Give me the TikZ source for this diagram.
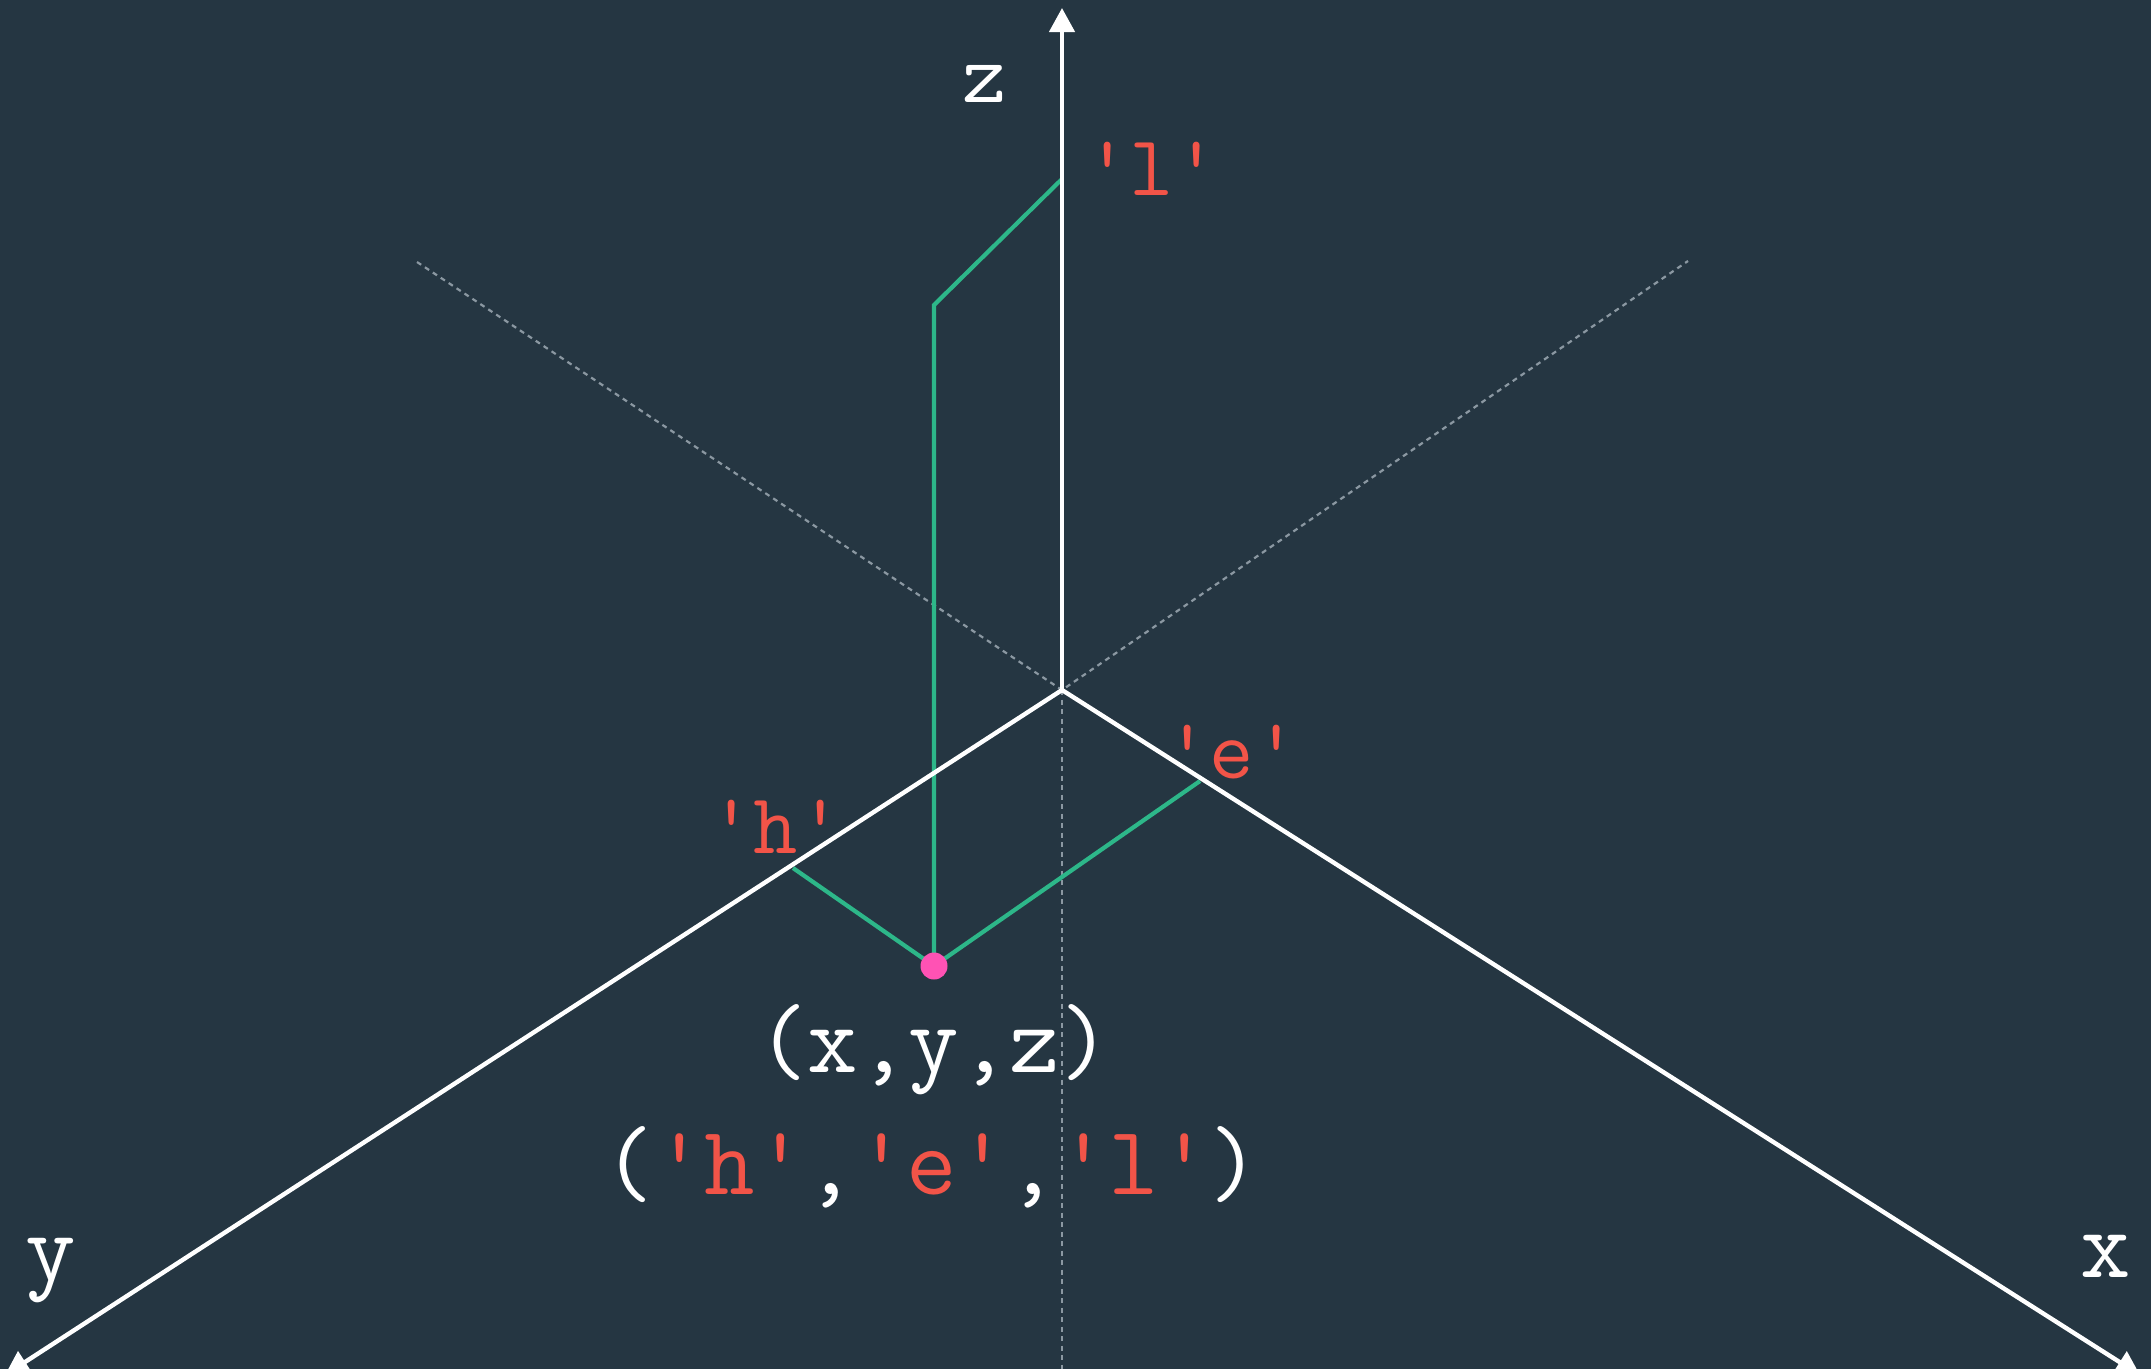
\documentclass[tikz,border=0pt]{standalone}
\usepackage{fontspec}
\usepackage{xcolor}
\usepackage{tikz}
\usetikzlibrary{arrows.meta, positioning}

\definecolor{bgslate}{HTML}{253642}
\definecolor{labred}{HTML}{F25448}
\definecolor{projgreen}{HTML}{2DB789}
\definecolor{dotpink}{HTML}{FF52B4}
\definecolor{guidegray}{HTML}{8B98A2}

\begin{document}
\begin{tikzpicture}[
        x=1pt, y=-1pt,
        axis/.style={draw=white, line width=4.4pt, -{Triangle[length=24pt, width=25pt]}},
        guide/.style={draw=guidegray, line width=2.2pt, dash pattern=on 5pt off 4.5pt},
        proj/.style={draw=projgreen, line width=4.2pt, line join=miter},
        small/.style={inner sep=0pt, anchor=base, font=\ttfamily\fontsize{86}{86}\selectfont},
        big/.style={inner sep=0pt, anchor=base, font=\ttfamily\fontsize{98}{98}\selectfont}
    ]
        % background and frame
        \fill[bgslate] (0,0) rectangle (2151,1369);
        \useasboundingbox (0,0) rectangle (2151,1369);

        % Axis end points
        \coordinate (origin) at (1062,690);
        \coordinate (ztip) at (1062,8);
        \coordinate (xtip) at (2140,1375);
        \coordinate (ytip) at (5,1375);

        % Negative axis guides
        \coordinate (guideL) at (417,262);
        \coordinate (guideR) at (1688,261);
        \coordinate (guideB) at (1062,1369);
        \draw[guide] (guideL) -- (origin) -- (guideR);
        \draw[guide] (origin) -- (guideB);

        % Projection of the point
        \coordinate (lpt) at (1062,179);
        \coordinate (bend) at (934,305);
        \coordinate (pt) at (934,966);
        \coordinate (hpt) at (793,868);
        \coordinate (ept) at (1200,781);
        \draw[proj] (lpt) -- (bend) -- (pt);
        \draw[proj] (hpt) -- (pt) -- (ept);

        % Axes
        \draw[axis] (origin) -- (ztip);
        \draw[axis] (origin) -- (xtip);
        \draw[axis] (origin) -- (ytip);

        \fill[dotpink] (pt) circle (13.5pt);

        % Axis labels
        \node[small, text=white] (zlab) at (985,102) {z};
        \node[big, text=white] (xlab) at (2106,1277) {x};
        \node[big, text=white] (ylab) at (51,1280) {y};

        % Value labels
        \node[small, text=labred] (llab) at (1152,195) {'l'};
        \node[small, text=labred] (elab) at (1232,778) {'e'};
        \node[small, text=labred] (hlab) at (776,853) {'h'};

        % Coordinates of the point
        \node[big, text=white] (coords) at (934,1072) {(x,y,z)};
        \node[big, text=white] (values) at (932,1194) {(\textcolor{labred}{'h'},\textcolor{labred}{'e'},\textcolor{labred}{'l'})};

\end{tikzpicture}
\end{document}
